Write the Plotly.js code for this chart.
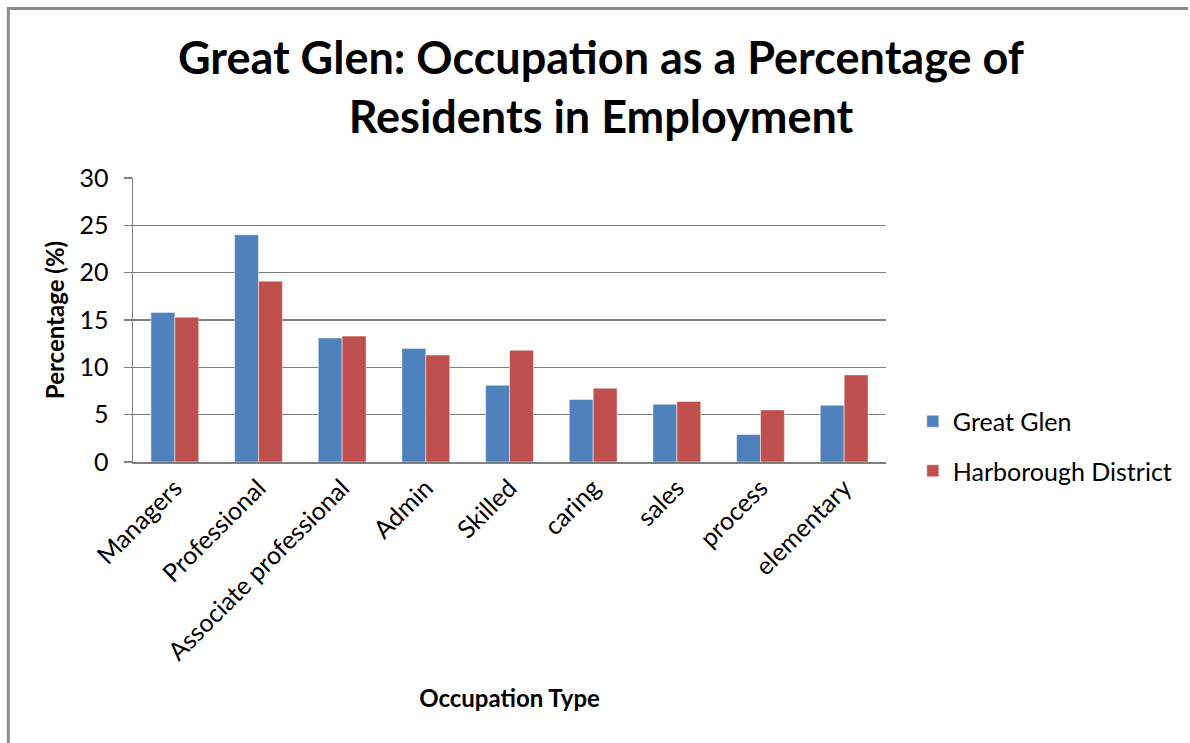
<!DOCTYPE html>
<html>
<head>
<meta charset="utf-8">
<script src="https://cdn.plot.ly/plotly-3.0.1.min.js"></script>
<style>
  html, body { margin: 0; padding: 0; background: #ffffff; }
  #chart { width: 1190px; height: 743px; }
</style>
</head>
<body>
<div id="chart"></div>
<script>
const categories = ["Managers", "Professional", "Associate professional", "Admin", "Skilled", "caring", "sales", "process", "elementary"];
const greatGlen = [15.8, 24.0, 13.1, 12.0, 8.1, 6.6, 6.1, 2.9, 6.0];
const harborough = [15.3, 19.1, 13.3, 11.3, 11.8, 7.8, 6.4, 5.5, 9.2];
const seriesNames = ["Great Glen", "Harborough District"];
const yTicks = [0, 5, 10, 15, 20, 25, 30];

const W = 1190, H = 743;
const margin = { l: 133, r: 299, t: 178, b: 281 };
const pw = W - margin.l - margin.r, ph = H - margin.t - margin.b;
const px2x = p => (p - margin.l) / pw;
const py2y = p => (H - margin.b - p) / ph;

const FONT = "Lato, 'Open Sans', sans-serif";
const gridColor = "#808080";

const traces = [
  { type: "bar", name: seriesNames[0], x: categories, y: greatGlen, legendgroup: "a",
    marker: { color: "#4F81BD", line: { color: "rgba(255,255,255,0.6)", width: 0.8 } } },
  { type: "bar", name: seriesNames[1], x: categories, y: harborough, legendgroup: "b",
    marker: { color: "#C0504D", line: { color: "rgba(255,255,255,0.6)", width: 0.8 } } }
];

const layout = {
  width: W, height: H,
  margin: margin,
  paper_bgcolor: "#ffffff",
  plot_bgcolor: "#ffffff",
  font: { family: FONT, color: "#000000", size: 25 },
  title: {
    text: "<b>Great Glen: Occupation as a Percentage of<br>Residents in Employment</b>",
    font: { family: FONT, size: 45, color: "#000000" },
    xref: "container", x: 0.505, xanchor: "center",
    yref: "container", y: 1 - 74 / H, yanchor: "top"
  },
  barmode: "group",
  bargap: 0.4286,
  bargroupgap: 0,
  showlegend: true,
  legend: {
    x: px2x(918), xanchor: "left",
    y: py2y(446), yanchor: "middle",
    font: { family: FONT, size: 25, color: "#000000" },
    traceorder: "grouped",
    tracegroupgap: 14,
    bgcolor: "rgba(0,0,0,0)"
  },
  xaxis: {
    type: "category",
    tickangle: -45,
    ticks: "",
    showgrid: false,
    showline: true,
    linecolor: gridColor,
    linewidth: 1.5,
    tickfont: { family: FONT, size: 25, color: "#000000" },
    automargin: false,
    title: { text: "<b>Occupation Type</b>", font: { family: FONT, size: 24, color: "#000000" }, standoff: 25 }
  },
  yaxis: {
    range: [0, 30],
    tickvals: yTicks,
    ticktext: yTicks.map(String),
    ticks: "outside",
    ticklen: 8,
    tickwidth: 1.5,
    tickcolor: gridColor,
    showline: true,
    linecolor: gridColor,
    linewidth: 1.5,
    showgrid: true,
    gridcolor: gridColor,
    gridwidth: 1.5,
    zeroline: false,
    ticklabelstandoff: 10,
    tickfont: { family: FONT, size: 25, color: "#000000" },
    automargin: false,
    title: { text: "<b>Percentage (%)</b>", font: { family: FONT, size: 24, color: "#000000" }, standoff: 8 }
  },
  shapes: [
    { type: "line", xref: "paper", yref: "paper", x0: px2x(7.5), x1: px2x(7.5), y0: py2y(8), y1: py2y(H + 5),
      line: { color: "#8c8c8c", width: 3 } },
    { type: "line", xref: "paper", yref: "paper", x0: px2x(6), x1: px2x(W + 5), y0: py2y(8.5), y1: py2y(8.5),
      line: { color: "#8c8c8c", width: 3 } }
  ]
};

Plotly.newPlot("chart", traces, layout, { displayModeBar: false, staticPlot: true });
</script>
</body>
</html>
